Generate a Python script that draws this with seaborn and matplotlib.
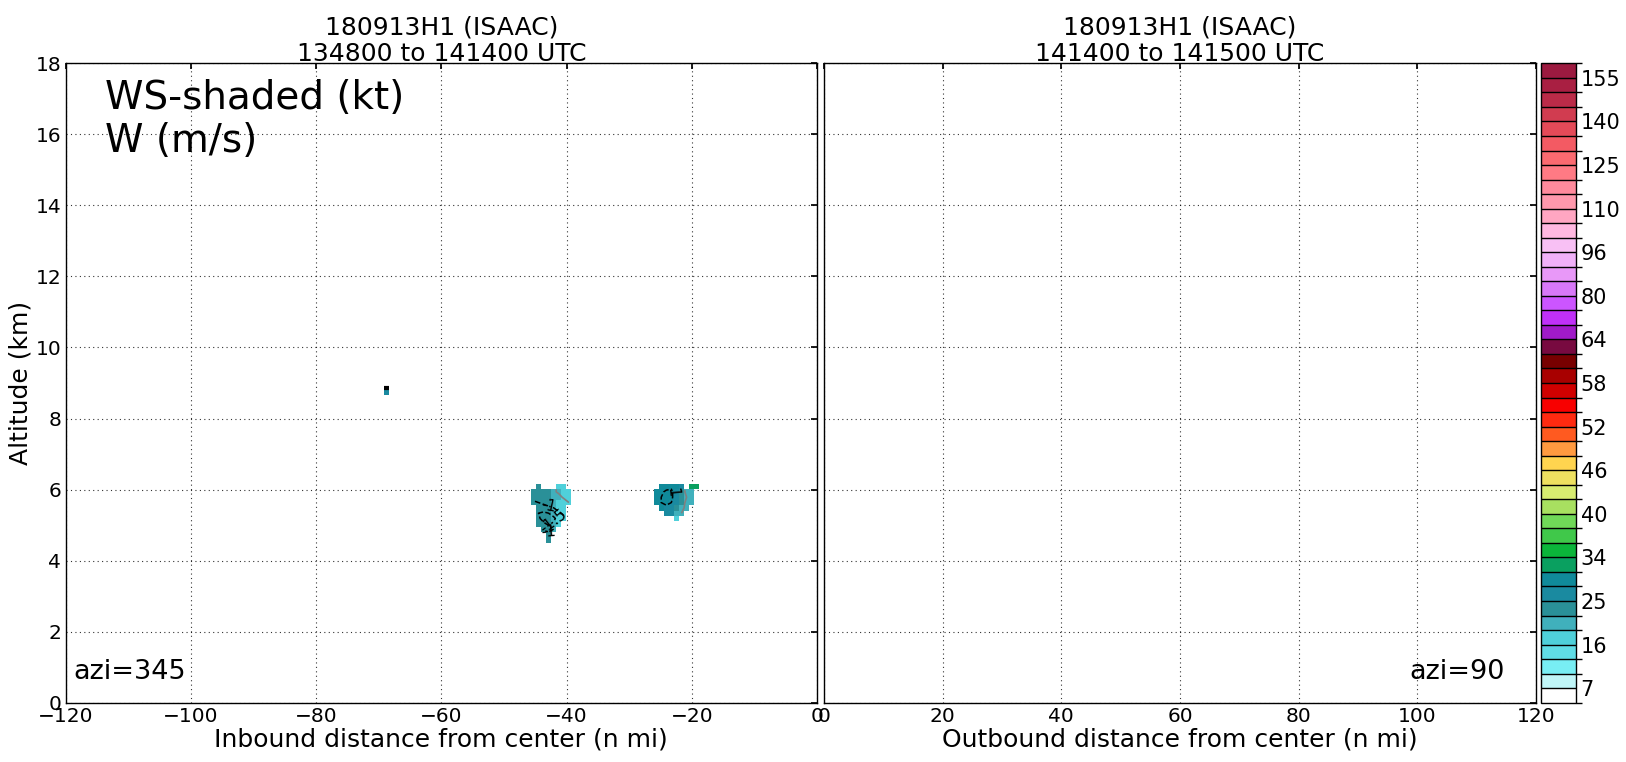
import numpy as np
import matplotlib
matplotlib.use("Agg")
import matplotlib.pyplot as plt
import matplotlib.colors as mcolors
import matplotlib.colorbar as mcolorbar
import seaborn as sns

# ---------------- data ----------------
nan = np.nan
# wind-speed colour levels (kt) and colours (bottom -> top)
ws_levels = [4, 7, 10, 13, 16, 19, 22, 25, 28, 31, 34, 36, 38, 40, 42, 44, 46, 48, 50, 52,
             54, 56, 58, 60, 62, 64, 69, 75, 80, 85, 91, 96, 101, 105, 110, 115, 120, 125,
             130, 135, 140, 145, 150, 155, 160]
ws_colors = ["#ffffff", "#c0f6f8", "#78eef4", "#60dde6", "#4fd0da", "#40b0bc", "#2a9098",
             "#1a8aa0", "#108a9a", "#0aa060", "#0bb53a", "#40c84a", "#70d858", "#a8e060",
             "#d8ec70", "#eee060", "#ffd44f", "#ff9a40", "#ff5a20", "#ff2a10", "#f80000",
             "#d00000", "#a80000", "#780000", "#780a40", "#a01ac8", "#c030f8", "#cc55ff",
             "#d878f8", "#e898f8", "#f0b0f8", "#f8c0f4", "#ffb8e0", "#ffa6c2", "#ff98ac",
             "#ff8a9c", "#ff7a84", "#fb6a70", "#f35a63", "#e44a58", "#d13c50", "#bb2b48",
             "#a91f42", "#9c1a40"]
cbar_ticks = [7, 16, 25, 34, 40, 46, 52, 58, 64, 80, 96, 110, 125, 140, 155]

# left (inbound) echo near -43 n mi : rows from top (6.16 km) downward
blobA_x0, blobA_ztop = -45.7, 6.16
blobA_ws = [
    [nan, 24, nan, nan, nan, 18, 18, nan],
    [24, 24, 24, 23, 21, 19, 17, 17],
    [24, 24, 24, 23, 21, 19, 17, 17],
    [24, 23, 23, 22, 20, 18, 17, 18],
    [nan, 24, 23, 22, 20, 18, 17, nan],
    [nan, 24, 23, 22, 20, 18, 17, nan],
    [nan, 24, 23, 22, 20, 18, 17, nan],
    [nan, 24, 23, 22, 20, 18, nan, nan],
    [nan, nan, 23, 22, 20, nan, nan, nan],
    [nan, nan, nan, 22, nan, nan, nan, nan],
    [nan, nan, nan, 22, nan, nan, nan, nan],
]
blobA_w = [
    [nan, -0.3, nan, nan, nan, 0.1, 0.3, nan],
    [-0.5, -0.4, -0.3, -0.2, -0.1, 0.1, 0.2, 0.3],
    [-0.8, -0.7, -0.6, -0.5, -0.4, -0.2, 0.1, 0.2],
    [-1.1, -1.0, -0.9, -0.8, -0.7, -0.5, -0.3, 0.0],
    [nan, -1.3, -1.2, -1.1, -1.0, -0.8, -0.6, nan],
    [nan, -1.5, -1.6, -1.5, -1.3, -1.1, -0.9, nan],
    [nan, -1.4, -1.7, -1.8, -1.6, -1.3, -1.1, nan],
    [nan, -1.1, -1.4, -1.6, -1.4, -1.1, nan, nan],
    [nan, nan, -1.1, -1.2, -1.0, nan, nan, nan],
    [nan, nan, nan, -0.8, nan, nan, nan, nan],
    [nan, nan, nan, -0.5, nan, nan, nan, nan],
]

# left (inbound) echo near -22 n mi
blobB_x0, blobB_ztop = -26.1, 6.16
blobB_ws = [
    [nan, 29, 29, 28, 28, 27, nan, 32, 32],
    [29, 29, 29, 28, 27, 24, 20, 21, nan],
    [29, 29, 29, 28, 26, 23, 20, 20, nan],
    [29, 29, 28, 27, 25, 22, 19, 19, nan],
    [nan, 28, 27, 26, 24, 21, 19, nan, nan],
    [nan, nan, 27, 25, 20, 19, nan, nan, nan],
    [nan, nan, nan, nan, 17, nan, nan, nan, nan],
]
blobB_w = [
    [nan, 0.6, 0.8, 0.9, 0.6, 0.2, nan, -0.1, -0.1],
    [0.7, 0.9, 1.1, 1.1, 0.7, 0.2, -0.1, -0.2, nan],
    [0.8, 1.0, 1.2, 1.1, 0.7, 0.3, 0.0, -0.1, nan],
    [0.8, 1.0, 1.1, 1.0, 0.6, 0.2, -0.1, -0.2, nan],
    [nan, 0.9, 0.9, 0.8, 0.5, 0.1, -0.1, nan, nan],
    [nan, nan, 0.7, 0.6, 0.3, 0.0, nan, nan, nan],
    [nan, nan, nan, nan, 0.1, nan, nan, nan, nan],
]

# isolated gate aloft
spot_x0, spot_ztop = -69.2, 8.82
spot_ws = [[26]]
spot_line_x = [-69.2, -68.4]
spot_line_z = [8.86, 8.86]

dx_nmi = 0.81   # 1.5 km gates
dz_km = 0.15

left_title = "180913H1 (ISAAC)\n134800 to 141400 UTC"
right_title = "180913H1 (ISAAC)\n141400 to 141500 UTC"
left_xlabel = "Inbound distance from center (n mi)"
right_xlabel = "Outbound distance from center (n mi)"
ylabel = "Altitude (km)"
left_xticks = [-120, -100, -80, -60, -40, -20, 0]
right_xticks = [0, 20, 40, 60, 80, 100, 120]
yticks = [0, 2, 4, 6, 8, 10, 12, 14, 16, 18]

# ---------------- plotting ----------------
sns.set_theme(style="white")
plt.rcParams["font.family"] = ["DejaVu Sans"]
plt.rcParams["axes.edgecolor"] = "black"
plt.rcParams["axes.linewidth"] = 1.0
plt.rcParams["text.color"] = "black"
plt.rcParams["axes.labelcolor"] = "black"
plt.rcParams["xtick.color"] = "black"
plt.rcParams["ytick.color"] = "black"

cmap = mcolors.ListedColormap(ws_colors)
norm = mcolors.BoundaryNorm(ws_levels, cmap.N)

fig = plt.figure(figsize=(16.26, 7.62), dpi=100)
axL = fig.add_axes([0.0403, 0.0778, 0.4622, 0.8391])
axR = fig.add_axes([0.5068, 0.0778, 0.4378, 0.8391])
cax = fig.add_axes([0.9480, 0.0778, 0.0215, 0.8391])


def draw_blob(ax, x0, ztop, ws, w=None):
    ws = np.ma.masked_invalid(np.array(ws, dtype=float))
    nr, nc = ws.shape
    xe = x0 + dx_nmi * np.arange(nc + 1)
    ze = ztop - dz_km * np.arange(nr + 1)
    ax.pcolormesh(xe, ze, ws, cmap=cmap, norm=norm, shading="flat", zorder=2)
    if w is not None:
        w = np.ma.masked_invalid(np.array(w, dtype=float))
        xc = 0.5 * (xe[:-1] + xe[1:])
        zc = 0.5 * (ze[:-1] + ze[1:])
        ax.contour(xc, zc, w, levels=[0.0], colors="gray", linewidths=1.2, zorder=3)
        neg = [lv for lv in (-1.5, -1.0) if w.min() < lv]
        pos = [lv for lv in (1.0,) if w.max() > lv]
        if neg:
            cs = ax.contour(xc, zc, w, levels=neg, colors="black", linestyles="dashed",
                            linewidths=1.1, zorder=3)
            ax.clabel(cs, fmt="%g", fontsize=11, inline=True)
        if pos:
            cs = ax.contour(xc, zc, w, levels=pos, colors="black", linestyles="dashed",
                            linewidths=1.1, zorder=3)
            ax.clabel(cs, fmt="%g", fontsize=11, inline=True)


draw_blob(axL, blobA_x0, blobA_ztop, blobA_ws, blobA_w)
draw_blob(axL, blobB_x0, blobB_ztop, blobB_ws, blobB_w)
draw_blob(axL, spot_x0, spot_ztop, spot_ws)
axL.plot(spot_line_x, spot_line_z, color="black", lw=3, solid_capstyle="butt", zorder=4)

for ax, xt, xl, title in ((axL, left_xticks, left_xlabel, left_title),
                          (axR, right_xticks, right_xlabel, right_title)):
    ax.set_xlim(xt[0], xt[-1])
    ax.set_ylim(0, 18)
    ax.set_xticks(xt)
    ax.set_yticks(yticks)
    ax.set_xticklabels([str(v).replace("-", "\u2212") for v in xt])
    ax.set_xlabel(xl, fontsize=18, labelpad=1)
    ax.set_title(title, fontsize=18, pad=2, linespacing=1.1)
    ax.grid(True, color="black", linestyle=(0, (1, 3)), linewidth=0.8, alpha=0.8)
    ax.tick_params(direction="in", top=True, right=True, length=4, labelsize=14.5,
                   pad=3)
    for s in ax.spines.values():
        s.set_visible(True)
        s.set_color("black")

axL.set_ylabel(ylabel, fontsize=18, labelpad=2)
axR.tick_params(labelleft=False)

axL.text(0.053, 0.975, "WS-shaded (kt)\nW (m/s)", transform=axL.transAxes,
         fontsize=28, va="top", ha="left", linespacing=1.15)
axL.text(0.011, 0.028, "azi=345", transform=axL.transAxes, fontsize=19.5,
         va="bottom", ha="left")
axR.text(0.956, 0.028, "azi=90", transform=axR.transAxes, fontsize=19.5,
         va="bottom", ha="right")

cb = mcolorbar.ColorbarBase(cax, cmap=cmap, norm=norm, boundaries=ws_levels,
                            ticks=cbar_ticks, spacing="uniform", drawedges=True,
                            orientation="vertical")
cb.dividers.set_color("black")
cb.dividers.set_linewidth(1.0)
cb.outline.set_edgecolor("black")
cb.ax.tick_params(labelsize=15, length=0, pad=3)
cb.ax.set_yticklabels([str(v) for v in cbar_ticks])

fig.savefig("out.png", dpi=100)
